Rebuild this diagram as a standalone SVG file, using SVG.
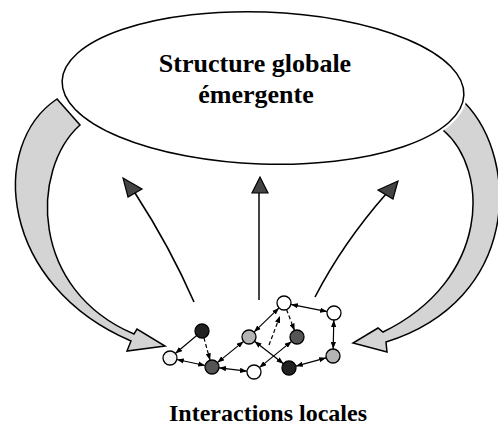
<svg xmlns="http://www.w3.org/2000/svg" width="498" height="425" viewBox="0 0 498 425">
<defs>
<marker id="ah" viewBox="0 0 8 6" refX="8" refY="3" markerWidth="7" markerHeight="5.5" markerUnits="userSpaceOnUse" orient="auto-start-reverse">
<path d="M0,0 L8,3 L0,6 z" fill="#000"/>
</marker>
</defs>
<style>
.bg{fill:#ffffff}
.big{fill:#d4d4d4;stroke:#000;stroke-width:1.5;stroke-linejoin:miter}
.halo{fill:none;stroke:#fff;stroke-width:6}
.ell{fill:#fff;stroke:#000;stroke-width:1.5}
.thin{fill:none;stroke:#000;stroke-width:1.6}
.head{fill:#444;stroke:#000;stroke-width:1.2;stroke-linejoin:miter}
.e{fill:none;stroke:#000;stroke-width:1.2;marker-end:url(#ah)}
.b{marker-start:url(#ah)}
.d{stroke-dasharray:4 2.5}
.n{stroke:#000;stroke-width:1.3}
.w{fill:#ffffff}
.lg{fill:#b4b4b4}
.dg{fill:#555555}
.bk{fill:#222222}
.t{font-family:"Liberation Serif","Times New Roman",serif;font-weight:bold;text-anchor:middle;fill:#000}
</style>
<rect class="bg" x="0" y="0" width="498" height="425"/>
<g id="feedback-left">
<path class="big" d="M57,99 C-12,145 0,285 131,341 L127,351 L165,346 L137,329 L134,334 C30,290 30,170 80,125 Z"/>
</g>
<g id="feedback-right">
<path class="big" d="M465,103 C520,160 520,300 386,342 L387,352 L353,343 L378,328 L383,332 C490,280 490,170 443,130 Z"/>
</g>
<g id="global-structure">
<ellipse class="halo" cx="263" cy="88" rx="201" ry="76" transform="rotate(2 263 88)"/>
<ellipse class="ell" cx="263" cy="88" rx="201" ry="76" transform="rotate(2 263 88)"/>
<text class="t" x="255" y="72" font-size="26">Structure globale</text>
<text class="t" x="256" y="103" font-size="26">émergente</text>
</g>
<g id="emergence-arrows">
<path class="thin" d="M194,302 Q170,247 135,193"/>
<polygon class="head" points="123,178 142,189 128,197"/>
<line x1="259" y1="300" x2="259" y2="192" stroke="#444" stroke-width="2"/>
<polygon class="head" points="260,177 252,193 268,193"/>
<path class="thin" d="M315,297 Q343,243 386,194"/>
<polygon class="head" points="398,181 378,190 393,199"/>
</g>
<g id="connectors">
<line class="e" x1="196.7" y1="335.5" x2="175.3" y2="353.5"/>
<line class="e d" x1="203.9" y1="337.7" x2="210.1" y2="360.3"/>
<line class="e b" x1="176.8" y1="359.5" x2="205.2" y2="365.5"/>
<line class="e b" x1="217.4" y1="362.6" x2="243.6" y2="341.4"/>
<line class="e b" x1="219" y1="367.8" x2="247" y2="371.2"/>
<line class="e b" x1="254" y1="332.1" x2="279" y2="307.9"/>
<line class="e d" x1="269" y1="345" x2="280" y2="316"/>
<line class="e d" x1="286.5" y1="309.5" x2="294.5" y2="330.5"/>
<line class="e b" x1="254.5" y1="341.3" x2="283.5" y2="363.7"/>
<line class="e b" x1="259.4" y1="367.6" x2="291.6" y2="341.4"/>
<line class="e b" x1="290.9" y1="304.4" x2="327.1" y2="311.6"/>
<line class="e b" x1="333.8" y1="320" x2="333.2" y2="349"/>
<line class="e b" x1="326.2" y1="357.8" x2="295.8" y2="366.2"/>
</g>
<g id="node-a"><circle class="n w" cx="170" cy="358" r="7" style="fill:#f2f2f2"/></g>
<g id="node-b"><circle class="n bk" cx="202" cy="331" r="7"/></g>
<g id="node-c"><circle class="n dg" cx="212" cy="367" r="7"/></g>
<g id="node-d"><circle class="n lg" cx="249" cy="337" r="7"/></g>
<g id="node-e"><circle class="n w" cx="254" cy="372" r="7"/></g>
<g id="node-f"><circle class="n w" cx="284" cy="303" r="7"/></g>
<g id="node-g"><circle class="n dg" cx="297" cy="337" r="7"/></g>
<g id="node-h"><circle class="n bk" cx="289" cy="368" r="7"/></g>
<g id="node-i"><circle class="n w" cx="334" cy="313" r="7"/></g>
<g id="node-j"><circle class="n lg" cx="333" cy="356" r="7"/></g>
<g id="caption">
<text class="t" x="268" y="421" font-size="24">Interactions locales</text>
</g>
</svg>
